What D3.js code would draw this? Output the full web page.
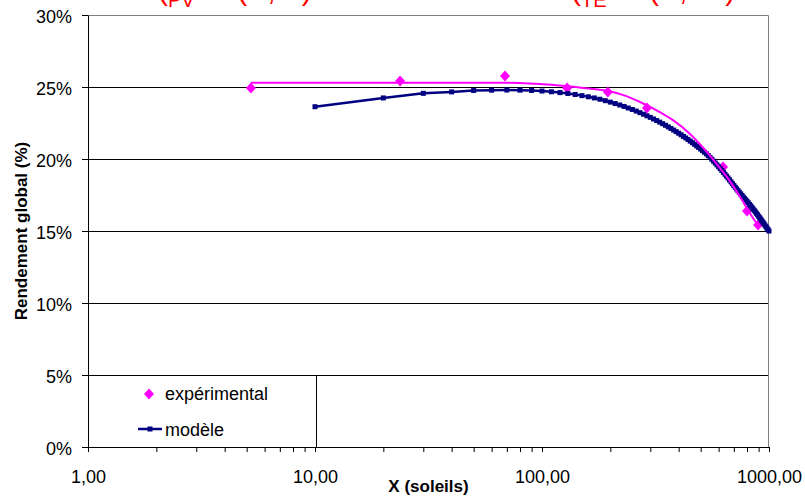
<!DOCTYPE html>
<html>
<head>
<meta charset="utf-8">
<script src="https://cdn.jsdelivr.net/npm/d3@7"></script>
<style>
  body { margin: 0; background: #fff; }
  svg { display: block; font-family: "Liberation Sans", Arial, sans-serif; }
</style>
</head>
<body>
<script>
// données expérimentales (X en soleils, rendement en %)
const expX = [5.22, 23.7, 68.7, 129, 195, 290, 627, 800, 895];
const expY = [24.93, 25.42, 25.76, 24.93, 24.65, 23.54, 19.44, 16.39, 15.42];

// courbe de tendance des points expérimentaux
const trendX = [5.22, 10, 20, 40, 60, 80, 98, 120, 137, 160, 193, 230, 270, 320, 379, 449, 531, 566, 651, 745, 824, 895];
const trendY = [25.3, 25.3, 25.3, 25.3, 25.3, 25.28, 25.21, 25.1, 25.02, 24.9, 24.74, 24.42, 23.96, 23.38, 22.68, 21.74, 20.51, 19.98, 18.77, 17.38, 16.23, 15.38];

// modèle
const modelX = [10, 20, 30, 40, 50, 60, 70, 80, 90, 100,
  110, 120, 130, 140, 150, 160, 170, 180, 190, 200,
  210, 220, 230, 240, 250, 260, 270, 280, 290, 300,
  310, 320, 330, 340, 350, 360, 370, 380, 390, 400,
  410, 420, 430, 440, 450, 460, 470, 480, 490, 500,
  510, 520, 530, 540, 550, 560, 570, 580, 590, 600,
  610, 620, 630, 640, 650, 660, 670, 680, 690, 700,
  710, 720, 730, 740, 750, 760, 770, 780, 790, 800,
  810, 820, 830, 840, 850, 860, 870, 880, 890, 900,
  910, 920, 930, 940, 950, 960, 970, 980, 990, 1000];
const modelY = [23.63, 24.24, 24.56, 24.66, 24.76, 24.78, 24.79, 24.78, 24.76, 24.72,
  24.67, 24.61, 24.55, 24.48, 24.40, 24.32, 24.24, 24.15, 24.05, 23.95,
  23.85, 23.75, 23.65, 23.54, 23.44, 23.33, 23.22, 23.11, 23.00, 22.89,
  22.78, 22.67, 22.56, 22.45, 22.34, 22.23, 22.12, 22.01, 21.90, 21.79,
  21.68, 21.57, 21.46, 21.35, 21.24, 21.13, 21.02, 20.91, 20.80, 20.69,
  20.58, 20.47, 20.36, 20.24, 20.11, 19.98, 19.85, 19.72, 19.59, 19.46,
  19.33, 19.20, 19.07, 18.94, 18.81, 18.68, 18.55, 18.42, 18.29, 18.16,
  18.04, 17.92, 17.80, 17.69, 17.58, 17.47, 17.36, 17.26, 17.16, 17.06,
  16.96, 16.85, 16.75, 16.65, 16.54, 16.44, 16.34, 16.23, 16.13, 16.02,
  15.92, 15.82, 15.71, 15.61, 15.51, 15.40, 15.30, 15.20, 15.10, 15.00];

// graduations
const yTicks = [0, 5, 10, 15, 20, 25, 30];
const xMajor = [1, 10, 100, 1000];
const xTicks = [1, 2, 3, 4, 5, 6, 7, 8, 9, 10, 20, 30, 40, 50, 60, 70, 80, 90,
  100, 200, 300, 400, 500, 600, 700, 800, 900, 1000];

const legendLabels = ["expérimental", "modèle"];
const titleY = "Rendement global (%)";
const titleX = "X (soleils)";

// taille et marges
const margin = { top: 15, right: 36, bottom: 52, left: 88 };
const width = 805 - margin.left - margin.right;
const height = 499 - margin.top - margin.bottom;

const root = d3.select("body").append("svg")
  .attr("width", 805)
  .attr("height", 499);

const svg = root.append("g")
  .attr("transform", `translate(${margin.left},${margin.top})`);

// échelles
const x = d3.scaleLog().domain([1, 1000]).range([0, width]);
const y = d3.scaleLinear().domain([0, 30]).range([height, 0]);

const fr = d3.formatLocale({ decimal: ",", thousands: " ", grouping: [3], currency: ["", " €"] });
const fmt2 = fr.format(".2f");

// titres rouges au-dessus du graphique (coupés par le bord de l'image)
const red = root.append("g").attr("fill", "#ff0000").style("font-size", "30px");
[["(", "PV", " = f(X, T)", 158], ["(", "TE", " = f(X, Tc)", 571]].forEach(t => {
  const txt = red.append("text").attr("x", t[3]).attr("y", 0);
  txt.append("tspan").text(t[0]);
  txt.append("tspan").attr("dy", 7).style("font-size", "20px").text(t[1]);
  txt.append("tspan").attr("dy", -7).text(t[2]);
});

// quadrillage horizontal
svg.selectAll(".grid")
  .data(yTicks.filter(d => d > 0 && d < 30))
  .enter().append("line")
  .attr("class", "grid")
  .attr("x1", 0).attr("x2", width)
  .attr("y1", d => Math.round(y(d)) + 0.5)
  .attr("y2", d => Math.round(y(d)) + 0.5)
  .attr("stroke", "#000")
  .attr("stroke-width", 1);

// cadre de la zone de tracé (haut et droite en gris)
svg.append("path")
  .attr("d", `M0,0.5H${width - 0.5}V${height}`)
  .attr("fill", "none")
  .attr("stroke", "#808080")
  .attr("stroke-width", 1);

// axe Y
const yAxis = svg.append("g")
  .call(d3.axisLeft(y).tickValues(yTicks).tickFormat(d => d + "%")
    .tickSize(6).tickSizeOuter(0).tickPadding(10));
yAxis.selectAll("text").style("font-size", "18px").attr("dy", "0.42em").attr("fill", "#000");

// axe X
const xAxis = svg.append("g")
  .attr("transform", `translate(0,${height})`)
  .call(d3.axisBottom(x).tickValues(xTicks)
    .tickFormat(d => xMajor.includes(d) ? fmt2(d) : "")
    .tickSize(5).tickSizeOuter(0).tickPadding(18));
xAxis.selectAll("text").style("font-size", "18px").attr("fill", "#000");

// titres des axes
root.append("text")
  .attr("transform", `translate(27,${margin.top + height / 2}) rotate(-90)`)
  .attr("text-anchor", "middle")
  .style("font-size", "17px")
  .style("font-weight", "bold")
  .text(titleY);

root.append("text")
  .attr("x", margin.left + width / 2)
  .attr("y", 492)
  .attr("text-anchor", "middle")
  .style("font-size", "17px")
  .style("font-weight", "bold")
  .text(titleX);

// points expérimentaux (losanges)
const diamond = "M0,-5.5L5,0L0,5.5L-5,0Z";
const exp = expX.map((d, i) => ({ x: d, y: expY[i] }));
svg.selectAll(".exp")
  .data(exp)
  .enter().append("path")
  .attr("class", "exp")
  .attr("transform", d => `translate(${x(d.x)},${y(d.y)})`)
  .attr("d", diamond)
  .attr("fill", "#ff00ff");

// modèle
const model = modelX.map((d, i) => ({ x: d, y: modelY[i] }));
svg.append("path")
  .datum(model)
  .attr("fill", "none")
  .attr("stroke", "#000080")
  .attr("stroke-width", 2.5)
  .attr("d", d3.line().x(d => x(d.x)).y(d => y(d.y)));

svg.selectAll(".mk")
  .data(model)
  .enter().append("rect")
  .attr("class", "mk")
  .attr("x", d => x(d.x) - 2.5)
  .attr("y", d => y(d.y) - 2.5)
  .attr("width", 5)
  .attr("height", 5)
  .attr("fill", "#000080");

// courbe de tendance
const trend = trendX.map((d, i) => ({ x: d, y: trendY[i] }));
svg.append("path")
  .datum(trend)
  .attr("fill", "none")
  .attr("stroke", "#ff00ff")
  .attr("stroke-width", 2)
  .attr("d", d3.line().x(d => x(d.x)).y(d => y(d.y)).curve(d3.curveCatmullRom));

// légende
const leg = root.append("g");
leg.append("rect")
  .attr("x", 88.5).attr("y", 375.5)
  .attr("width", 228).attr("height", 72)
  .attr("fill", "#fff")
  .attr("stroke", "#000")
  .attr("stroke-width", 1);

leg.append("path")
  .attr("transform", "translate(149,394)")
  .attr("d", diamond)
  .attr("fill", "#ff00ff");
leg.append("line")
  .attr("x1", 138).attr("x2", 162)
  .attr("y1", 429).attr("y2", 429)
  .attr("stroke", "#000080")
  .attr("stroke-width", 2.5);
leg.append("rect")
  .attr("x", 147.5).attr("y", 426.5)
  .attr("width", 5).attr("height", 5)
  .attr("fill", "#000080");

leg.selectAll(".lt")
  .data(legendLabels)
  .enter().append("text")
  .attr("class", "lt")
  .attr("x", 165)
  .attr("y", (d, i) => 400 + i * 36)
  .style("font-size", "18px")
  .text(d => d);
</script>
</body>
</html>
